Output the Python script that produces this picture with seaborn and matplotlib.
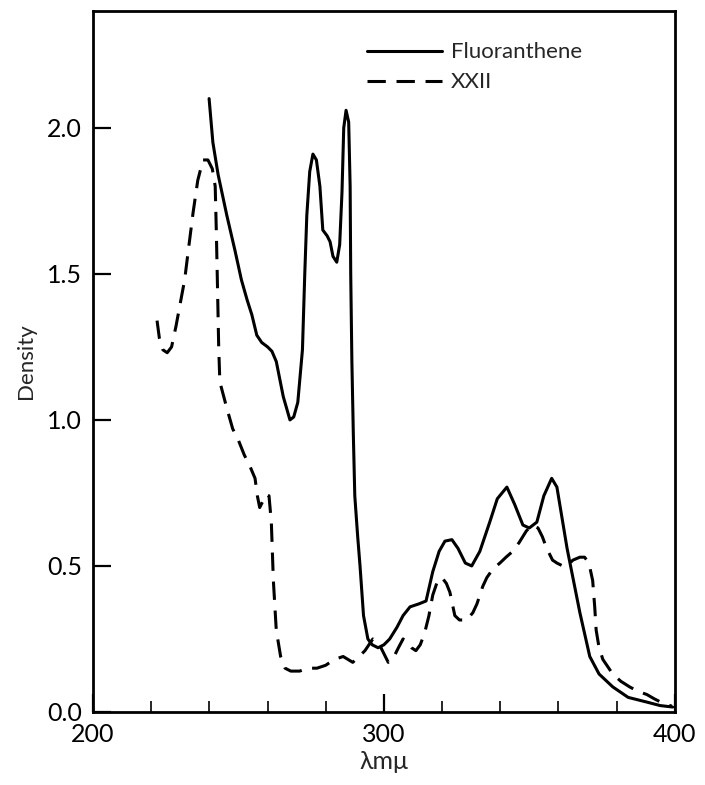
import numpy as np
import pandas as pd
import matplotlib
matplotlib.use("Agg")
import matplotlib.pyplot as plt
from matplotlib.ticker import MultipleLocator
import seaborn as sns

# Absorption spectra (wavelength in m-mu, optical density)
fluor_wl = [239.9, 241.2, 243, 246, 248.8, 251, 253, 254.6, 256.3, 258, 260, 261.5, 263,
            265.4, 267.7, 269, 270.4, 272, 272.8, 273.5, 274.5, 275.6, 276.8, 278, 279,
            280.5, 281.5, 282.5, 283.8, 284.8, 285.6, 286.2, 287, 287.9, 288.4, 288.6,
            289, 289.5, 290, 291, 291.8, 293, 294.5, 296, 298, 300, 302, 304.5, 306.6,
            309, 312, 314.5, 316.8, 319, 321, 323.4, 325.5, 328, 330.2, 333, 336.4, 339,
            342.3, 345, 347.8, 350, 352.6, 355, 357.7, 359.5, 361, 363, 364.6, 367.4,
            370.8, 374, 378.7, 384, 390.4, 395, 399.3]
fluor_od = [2.10, 1.95, 1.84, 1.70, 1.58, 1.48, 1.41, 1.36, 1.29, 1.265, 1.25, 1.235, 1.20,
            1.08, 1.00, 1.01, 1.06, 1.24, 1.50, 1.70, 1.85, 1.91, 1.89, 1.80, 1.65,
            1.63, 1.61, 1.56, 1.54, 1.60, 1.78, 2.00, 2.06, 2.02, 1.80, 1.50,
            1.20, 0.95, 0.74, 0.60, 0.50, 0.33, 0.25, 0.23, 0.22, 0.23, 0.25, 0.29, 0.33,
            0.36, 0.37, 0.38, 0.48, 0.55, 0.585, 0.59, 0.56, 0.51, 0.50, 0.55, 0.65, 0.73,
            0.77, 0.71, 0.64, 0.63, 0.65, 0.74, 0.80, 0.77, 0.68, 0.56, 0.48, 0.34,
            0.19, 0.13, 0.086, 0.05, 0.034, 0.022, 0.017]

xxii_wl = [222, 222.8, 224, 225.5, 227, 228.5, 230, 231.5, 233, 234.4, 236, 237.8, 239.5,
           241, 242, 242.4, 242.8, 243.2, 243.6, 246, 248, 250, 252, 254, 255.7, 256.5,
           257.3, 258.3, 259.5, 260.5, 261.3, 262, 263, 264.5, 266, 268, 271, 274, 277,
           280, 283, 286, 289.3, 291.5, 293.5, 296.2, 298, 300, 301.5, 303, 305, 306.6,
           308, 309.5, 311, 312.5, 314, 315.5, 316.8, 318.5, 320, 321.5, 322.7, 324.4,
           326, 328.5, 330.6, 332, 334, 335.4, 337.5, 339.9, 342, 344.3, 346.5, 349, 351,
           353, 354.5, 356, 358, 359.5, 361.5, 363, 365, 367.4, 369, 370.5, 371.8, 372.5,
           373, 374, 375.3, 378.7, 381.5, 384.5, 387.5, 390.4, 393, 396, 399]
xxii_od = [1.34, 1.28, 1.24, 1.23, 1.25, 1.32, 1.40, 1.48, 1.60, 1.71, 1.82, 1.89, 1.89,
           1.86, 1.80, 1.64, 1.45, 1.25, 1.13, 1.04, 0.97, 0.93, 0.88, 0.84, 0.80, 0.74,
           0.70, 0.72, 0.745, 0.74, 0.65, 0.45, 0.28, 0.19, 0.15, 0.14, 0.14, 0.15, 0.15,
           0.16, 0.18, 0.19, 0.17, 0.19, 0.21, 0.25, 0.24, 0.20, 0.17, 0.18, 0.22, 0.25,
           0.24, 0.22, 0.21, 0.23, 0.27, 0.33, 0.40, 0.45, 0.46, 0.44, 0.41, 0.33,
           0.315, 0.315, 0.34, 0.37, 0.43, 0.46, 0.49, 0.51, 0.53, 0.55, 0.58, 0.62, 0.64,
           0.63, 0.60, 0.56, 0.52, 0.51, 0.50, 0.50, 0.52, 0.53, 0.53, 0.51, 0.45, 0.36,
           0.28, 0.22, 0.18, 0.13, 0.105, 0.086, 0.07, 0.06, 0.045, 0.03, 0.02]

compounds = ["Fluoranthene", "XXII"]
x_ticks = [200, 300, 400]
y_ticks = [0.0, 0.5, 1.0, 1.5, 2.0]

df = pd.concat([
    pd.DataFrame({"wavelength": fluor_wl, "density": fluor_od, "compound": compounds[0]}),
    pd.DataFrame({"wavelength": xxii_wl, "density": xxii_od, "compound": compounds[1]}),
], ignore_index=True)

sns.set_style("ticks")
plt.rcParams["font.family"] = ["Lato", "DejaVu Sans"]

fig = plt.figure(figsize=(7.05, 7.85), dpi=100)
ax = fig.add_axes([0.132, 0.093, 0.825, 0.893])

sns.lineplot(data=df, x="wavelength", y="density", style="compound",
             dashes={"Fluoranthene": "", "XXII": (6, 3.5)},
             color="black", linewidth=2.2, sort=False, estimator=None, ax=ax)

ax.set_xlim(200, 400)
ax.set_ylim(0, 2.4)
ax.set_xticks(x_ticks)
ax.set_yticks(y_ticks)
ax.set_yticklabels([f"{v:.1f}" for v in y_ticks])
ax.xaxis.set_minor_locator(MultipleLocator(20))

ax.tick_params(axis="both", which="major", direction="in", length=13, width=1.6,
               labelsize=18, pad=8, colors="black")
ax.tick_params(axis="x", which="minor", direction="in", length=8, width=1.4)
for s in ax.spines.values():
    s.set_linewidth(2.0)
    s.set_color("black")

ax.set_xlabel("λmμ", fontsize=18, labelpad=3)
ax.set_ylabel("Density", fontsize=16, labelpad=8)

ax.legend(frameon=False, loc="upper left", bbox_to_anchor=(0.455, 0.968),
          handlelength=3.4, handletextpad=0.4, labelspacing=0.45, fontsize=16,
          borderaxespad=0)

fig.savefig("out.png", dpi=100)
